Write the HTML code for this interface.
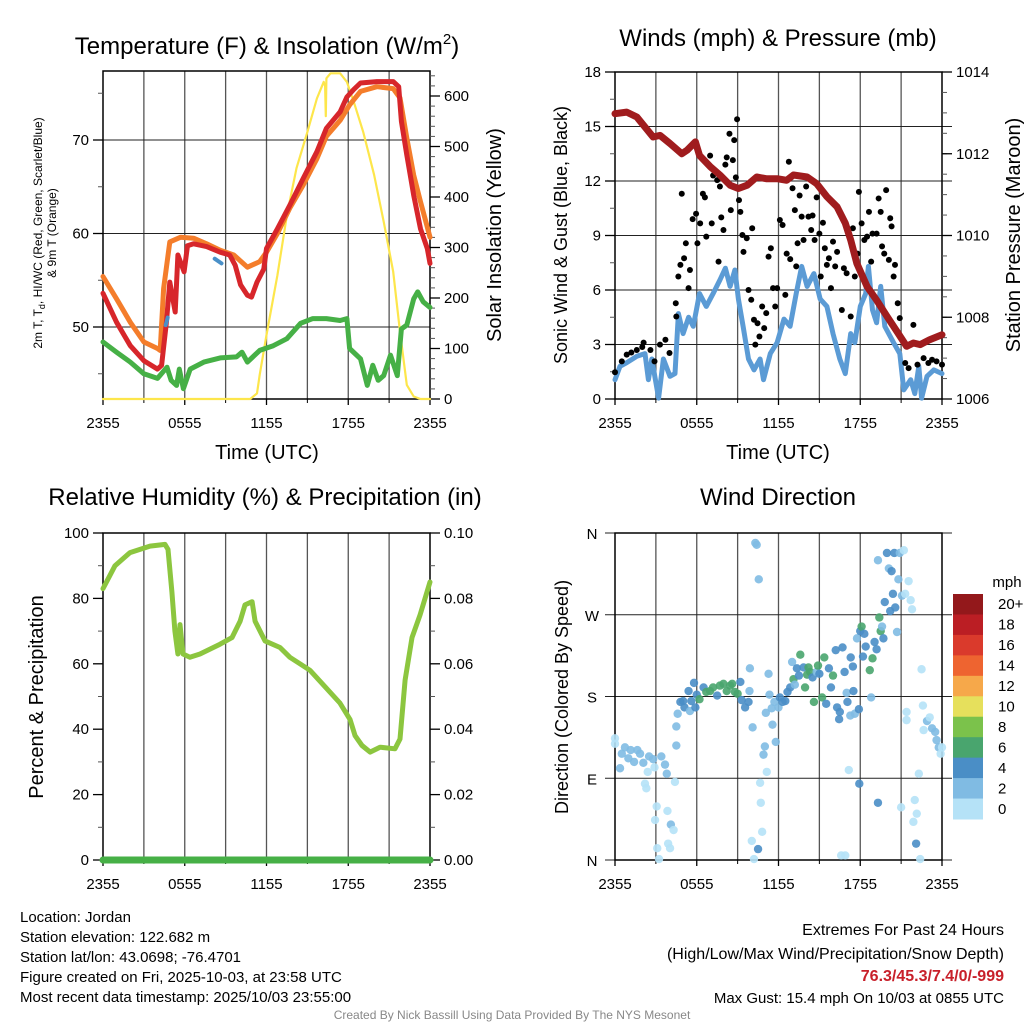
<!DOCTYPE html>
<html><head><meta charset="utf-8"><style>
body{margin:0;background:#fff;width:1024px;height:1024px;overflow:hidden;font-family:"Liberation Sans",sans-serif}
svg text{font-family:"Liberation Sans",sans-serif}
</style></head><body>
<svg id="s" width="1024" height="1024" viewBox="0 0 1024 1024" xmlns="http://www.w3.org/2000/svg"></svg>
<script>
// ---- Panel 1 data (hours since 2355 UTC) ----
const redH=[0,1,2,3,4,4.3,4.65,4.9,5.3,5.5,5.95,6.2,6.65,7.6,8.6,9.3,9.7,10.1,10.6,10.9,11.3,11.8,12,12.8,13.7,14.7,15.7,16.4,17.4,17.9,18.4,18.9,20.1,21.3,21.7,21.9,22.3,22.8,23.3,23.8,24];
const redV=[53.6,50.5,48,46.4,45.5,45.9,50.5,54.8,51.6,57.7,55.9,58.7,58.9,58.6,58,57.7,56.6,54.5,53.4,53.2,54.8,56.2,58.4,60.5,63,65.9,68.75,71.25,73,74.6,75.4,76.1,76.25,76.25,75.7,72,68.4,64.1,60.5,58.4,56.8];
const orgH=[0,1,2,3,4,4.2,4.45,4.9,5.7,6.65,7.6,8.6,9.6,10.6,11.5,12,12.8,13.7,14.7,15.7,16.4,17.4,18.1,18.9,20.1,21.3,21.8,22.3,22.8,23.3,24];
const orgV=[55.4,53,50.5,48.4,47.7,47.5,54.1,59.1,59.6,59.5,58.9,58.2,57.7,56.4,57,58,60,62.7,65.2,68,70.4,72.1,73.75,75.2,75.7,75.5,74.5,70.2,66.25,63.4,59.6];
const grnH=[0,1,2,3,4,4.4,4.7,5.0,5.4,5.6,5.9,6.4,7.4,8.6,9.8,10.2,10.6,11.5,12.5,13.5,14.5,15.4,16.4,17.4,17.9,18.1,18.9,19.4,19.8,20.2,20.6,21.1,21.6,21.9,22.3,22.8,23.1,23.5,24];
const grnV=[48.4,47.3,46.25,45,44.5,45.2,45.7,44.3,43.75,45.5,43.4,45.5,46.25,46.7,46.8,47.3,46.25,47.5,48,48.75,50.4,50.9,50.9,50.7,50.9,47.7,46.6,43.75,45.9,44.3,44.8,47,44.8,49.8,50.2,53,53.75,52.7,52.1];
const solH=[0,10.8,11.3,11.5,12,12.8,13.5,14.2,15,15.7,16.2,16.3,16.35,16.4,16.7,17.4,17.9,18.4,19.1,19.9,20.6,21.3,21.8,22.3,22.8,23.3,24];
const solV=[0,0,11,48,127,245,364,457,529,595,628,620,560,635,645,645,628,589,529,444,351,252,133,28,5,0,0];
const hiH=[4.6,4.75];
const hiV=[50.2,51];
const hi2H=[8.2,8.7];
const hi2V=[57.3,56.8];
// ---- Panel 2 data ----
const presH=[0,0.86,1.6,2.8,3.3,4.04,4.9,5.3,5.9,6.2,7,7.7,8.45,9.06,9.7,10.4,11.1,11.9,12.6,13.1,14.1,14.8,15.55,16.3,16.9,17.3,17.75,18.5,19.2,19.96,20.7,21.4,21.9,22.4,23.1,24];
const presV=[1012.98,1013.02,1012.9,1012.41,1012.45,1012.25,1012.0,1012.09,1012.29,1011.96,1011.68,1011.48,1011.23,1011.15,1011.23,1011.43,1011.39,1011.39,1011.35,1011.48,1011.43,1011.27,1010.95,1010.7,1010.3,1009.89,1009.32,1008.75,1008.42,1008.02,1007.65,1007.29,1007.37,1007.33,1007.45,1007.57];
const windH=[0,0.37,0.86,1.6,2.2,2.45,2.7,3.2,3.55,4.04,4.4,4.65,5.0,5.4,5.75,6.2,6.7,7.2,7.7,8.1,8.45,8.8,9.06,9.4,9.8,10.2,10.65,10.9,11.4,11.9,12.4,12.85,13.3,13.7,14.1,14.6,15.06,15.55,16.0,16.5,16.9,17.3,17.6,18.0,18.4,18.6,18.9,19.2,19.5,19.8,20.45,20.9,21.2,21.7,22.0,22.3,22.5,22.9,23.4,24];
const windV=[1.06,1.8,2.0,2.35,2.5,1.06,2.2,0.05,2.2,1.25,1.4,4.7,3.6,4.5,4.0,5.8,5.1,5.8,6.55,7.2,6.2,7.1,5.5,4.0,2.2,1.6,2.2,1.06,2.5,3.1,4.4,4.0,5.8,7.3,6.2,6.9,5.5,5.1,3.6,2.2,1.4,3.6,3.1,5.1,5.8,7.3,4.9,4.2,6.2,4.0,3.1,2.5,0.5,1.06,0.3,1.8,0.05,1.25,1.6,1.4];
const gustH=[0,0.5,0.86,1.2,1.6,2.0,2.1,2.6,2.9,3.3,3.7,4.0,4.46,4.5,4.65,4.8,4.9,5.07,5.2,5.4,5.5,5.7,5.95,6.05,6.25,6.45,6.6,6.7,6.98,7.1,7.2,7.5,7.6,7.7,7.8,7.96,8.1,8.2,8.4,8.5,8.65,8.75,8.87,8.96,9.1,9.2,9.35,9.43,9.67,9.8,10.0,10.07,10.2,10.3,10.46,10.6,10.8,10.95,11.1,11.27,11.44,11.6,11.76,11.9,12.1,12.3,12.5,12.6,12.76,12.86,13.03,13.2,13.3,13.4,13.55,13.7,13.84,14.03,14.2,14.4,14.5,14.65,14.8,15.0,15.1,15.26,15.4,15.55,15.7,15.85,16.0,16.16,16.3,16.65,16.8,17.0,17.3,17.46,17.6,17.8,17.9,18.1,18.3,18.5,18.64,18.8,18.9,19.2,19.35,19.5,19.6,19.76,19.9,20.1,20.2,20.3,20.45,20.55,20.75,20.9,21.3,21.55,21.9,22.2,22.65,23.0,23.27,23.6,24];
const gustV=[1.47,2.07,2.44,2.56,2.7,2.86,3.1,2.7,2.07,2.99,3.26,2.53,5.27,4.54,6.74,7.38,11.3,7.75,8.57,6.1,7.1,9.9,10.2,8.57,9.67,11.3,11.1,8.94,13.4,9.67,12.3,12.05,7.56,11.7,10.0,9.3,12.9,13.3,14.6,10.4,13.15,14.25,12.2,15.4,10.95,10.3,9.03,8.1,8.85,6.0,5.46,9.4,4.36,2.99,4.17,3.44,5.09,3.9,4.73,7.84,8.3,6.1,5.09,6.1,9.85,9.58,5.73,8.0,13.06,7.7,11.6,10.4,7.3,8.57,11.2,10.04,8.75,11.7,10.04,9.3,10.1,8.75,11.1,9.1,6.74,9.7,8.3,7.38,7.75,6.1,8.66,7.3,8.1,4.9,7.2,6.92,4.54,9.4,6.74,8.0,11.4,9.67,8.75,8.94,10.3,7.56,9.1,9.1,11.04,10.3,8.4,8.0,11.5,7.66,9.95,9.5,6.74,7.38,5.27,4.45,1.98,1.7,4.08,1.89,2.25,1.98,2.16,2.07,1.89];
// ---- Panel 3 data ----
const rhH=[0,0.88,1.98,3.45,4.55,4.77,5.06,5.28,5.5,5.65,5.87,6.38,7.12,8.59,9.47,10.06,10.42,10.94,11.16,11.89,12.99,13.72,14.46,15.19,16.29,17.39,18.13,18.5,19.01,19.6,20.33,21.43,21.8,22.17,22.68,23.27,24];
const rhV=[83,90,94,96,96.5,95,82,70,63,72,63,62,63,66,68,73,78,79,73,67,65,62,60,58,53,48,43,38,35,33,34.5,34,37,55,68,75,85];
const pcpH=[0,24];
const pcpV=[0,0];
// ---- Panel 4 data: hour, direction (deg), speed (mph) ----
const dirH=[0,0,0.37,0.5,0.73,0.98,1.15,1.4,1.64,1.84,2.08,2.4,2.2,2.3,2.5,2.8,2.9,3.06,2.94,3.1,3.23,3.4,3.67,3.8,3.85,4.1,4.3,3.9,4.04,4.4,4.5,4.5,4.6,4.8,5.0,5.1,5.4,5.5,5.6,5.8,5.9,6.0,6.2,6.5,6.7,6.98,7.2,7.5,7.7,7.96,8.2,8.45,8.6,8.8,9.0,9.2,9.3,9.55,9.8,9.9,9.87,10.1,10.04,10.2,10.3,10.4,10.55,10.5,10.65,10.7,10.8,10.9,11.0,11.14,11.07,11.27,11.34,11.5,11.56,11.7,11.8,12.0,12.1,12.3,12.5,12.66,12.86,13.0,13.1,13.2,13.35,13.5,13.6,13.84,13.95,14.1,14.2,14.33,14.5,14.6,14.8,14.9,15.0,15.2,15.36,15.5,15.7,15.85,16.0,16.2,16.3,16.45,16.5,16.7,16.85,17.0,17.06,17.16,17.27,17.3,17.46,17.5,17.6,17.76,17.9,17.93,18.0,18.1,18.2,18.3,18.4,18.7,18.8,18.9,19.05,19.2,19.3,19.3,19.4,19.5,19.6,19.7,19.8,19.96,20.1,20.2,20.3,20.4,20.57,20.5,20.7,20.8,20.9,21.0,21.06,21.2,21.3,21.4,21.4,21.55,21.7,21.8,21.9,22.0,22.1,22.15,22.3,22.4,22.5,22.6,22.65,22.9,23.1,23.27,23.5,23.6,23.76,23.9,24.0,16.6,16.9];
const dirV=[134,128,101,117,124,112,121,108,121,117,107,97,84,79,114,111,102,59,44,13,1,114,105,95,54,39,33,18,13,86,126,147,161,174,175,168,186,164,175,195,168,182,177,190,185,186,190,181,192,194,186,192,194,185,183,196,176,168,174,211,186,146,21,1,349,347,309,12,85,63,31,116,125,97,162,205,182,167,149,174,130,168,179,174,175,185,190,218,199,193,211,203,226,212,190,204,212,207,201,174,207,214,205,179,223,172,211,190,203,231,168,155,163,234,207,184,174,99,159,223,213,186,161,244,166,84,252,257,224,249,235,209,179,222,240,232,63,330,267,252,257,244,284,338,321,274,318,293,278,338,251,309,338,58,291,341,293,163,154,307,286,276,42,66,18,51,95,1,210,170,143,153,157,145,141,132,124,117,124,5,5];
const dirS=[1,1,3,3,3,3,3,3,3,3,3,1,1,1,3,3,1,1,1,1,1,3,3,3,1,3,1,1,1,1,3,3,3,5,5,5,5,3,5,5,5,5,7,5,7,7,7,5,7,7,7,7,7,7,7,5,5,5,5,3,3,3,1,1,3,3,3,5,1,1,1,3,3,1,3,3,3,3,3,3,3,3,5,5,5,5,5,3,7,3,5,5,7,5,7,7,7,7,5,7,3,7,5,7,7,5,5,5,7,5,5,5,5,5,5,3,5,1,3,5,5,5,3,3,5,5,5,7,5,5,5,7,3,7,5,5,5,3,7,7,3,5,5,5,3,5,5,5,5,5,3,3,3,1,3,1,1,1,1,1,1,1,1,1,5,1,1,1,1,1,1,3,1,3,3,3,3,1,1,1,1];
const cbLabels=["20+","18","16","14","12","10","8","6","4","2","0"];
const cbColors=["#93181b","#bb1e24","#da3a2c","#ee6430","#f6a84a","#e6e05c","#7bc24b","#49a56e","#4a8ec6","#80bbe3","#b5e2f7"];
const xTickLabels=["2355","0555","1155","1755","2355"];

const NS="http://www.w3.org/2000/svg";
const svg=document.getElementById('s');
function mk(tag,attrs,name,parent){
  const e=document.createElementNS(NS,tag);
  for(const k in attrs)e.setAttribute(k,attrs[k]);
  
  
  (parent||svg).appendChild(e);return e;
}
function txt(x,y,s,size,anchor,name,extra){
  const t=mk('text',Object.assign({x:x,y:y,'font-size':size,'text-anchor':anchor||'middle',fill:'#000'},extra||{}),name);
  t.textContent=s;return t;
}
function lin(d0,d1,r0,r1){return v=>r0+(v-d0)*(r1-r0)/(d1-d0);}

function panel(P,o){
  const g=mk('g',{},o.name);
  const X=lin(0,24,P.x0,P.x1);
  // vertical grid
  for(let h=3;h<24;h+=3){mk('line',{x1:X(h),x2:X(h),y1:P.y0,y2:P.y1,stroke:'#555','stroke-width':1.3},'vertical-gridline',g);}
  // horizontal grid
  if(o.hgrid)o.hgrid.forEach(v=>{const y=o.YL(v);mk('line',{x1:P.x0-(o.extL||0),x2:P.x1+(o.extR||0),y1:y,y2:y,stroke:'#222','stroke-width':1.1},'horizontal-gridline',g);});
  // frame
  mk('rect',{x:P.x0,y:P.y0,width:P.x1-P.x0,height:P.y1-P.y0,fill:'none',stroke:'#000','stroke-width':1.5},'plot-frame',g);
  // x ticks
  for(let i=0;i<5;i++){const x=X(i*6);mk('line',{x1:x,x2:x,y1:P.y1,y2:P.y1+6,stroke:'#000','stroke-width':1.3},'x-tick',g);
    txt(x,P.y1+29,xTickLabels[i],15,'middle','x-tick-label');}
  for(let h=3;h<24;h+=6){mk('line',{x1:X(h),x2:X(h),y1:P.y1,y2:P.y1+4,stroke:'#000'},'x-minor-tick',g);}
  return {g,X};
}
function yTicks(P,Y,vals,labels,side,minor,name,len){
  const x=side==='L'?P.x0:P.x1, d=side==='L'?-1:1;
  minor.forEach(v=>mk('line',{x1:x,x2:x+d*5,y1:Y(v),y2:Y(v),stroke:'#555'},name+'-minor-tick'));
  vals.forEach((v,i)=>{mk('line',{x1:x,x2:x+d*(len||10),y1:Y(v),y2:Y(v),stroke:'#000','stroke-width':1.3},name+'-tick');
    if(labels[i]!=='')txt(x+d*((len||10)+4),Y(v)+5,labels[i],15,side==='L'?'end':'start',name+'-label');});
}
function path(H,V,X,Y,color,w,name,parent){
  let d='';H.forEach((h,i)=>{d+=(i?'L':'M')+X(h).toFixed(1)+' '+Y(V[i]).toFixed(1);});
  return mk('path',{d:d,fill:'none',stroke:color,'stroke-width':w,'stroke-linejoin':'round','stroke-linecap':'round'},name,parent);
}
function range(a,b,s){const r=[];for(let v=a;v<=b+1e-9;v+=s)r.push(+v.toFixed(4));return r;}

// ===== Panel 1 =====
const P1={x0:103,x1:430,y0:71,y1:399};
const T1=lin(50,70,327,140), S1=lin(0,600,399,96);
const p1=panel(P1,{name:'temperature-panel',hgrid:[50,60,70],YL:T1,extL:10});
yTicks(P1,T1,[50,60,70],['50','60','70'],'L',[45,55,65,75],'temp-axis',10);
yTicks(P1,S1,range(0,600,100),['0','100','200','300','400','500','600'],'R',range(20,640,20),'insolation-axis',10);
path(solH,solV,p1.X,S1,'#fde64b',2.2,'insolation-line');
path(grnH,grnV,p1.X,T1,'#46b046',5,'dewpoint-line');
path(orgH,orgV,p1.X,T1,'#f47d2b',5,'temp-9m-line');
path(redH,redV,p1.X,T1,'#d7262b',5,'temp-2m-line');
path(hiH,hiV,p1.X,T1,'#4a90c8',4,'heat-index-line');
path(hi2H,hi2V,p1.X,T1,'#4a90c8',4,'heat-index-line-2');
txt(267,54,'',24,'middle','p1-title-placeholder');
(function(){const t=txt(267,54,'',24,'middle','temperature-title');t.innerHTML='Temperature (F) &amp; Insolation (W/m<tspan font-size="15" dy="-10">2</tspan><tspan dy="10">)</tspan>';})();
txt(267,459,'Time (UTC)',20,'middle','x-axis-title');
(function(){const t=mk('text',{transform:'translate(42,233) rotate(-90)','font-size':12,'text-anchor':'middle'},'temp-axis-title');t.innerHTML='2m T, T<tspan font-size="9" dy="3">d</tspan><tspan dy="-3">, HI/WC (Red, Green, Scarlet/Blue)</tspan>';
const t2=mk('text',{transform:'translate(56,233) rotate(-90)','font-size':12,'text-anchor':'middle'},'temp-axis-title-2');t2.textContent='& 9m T (Orange)';})();
mk('text',{transform:'translate(501,235) rotate(-90)','font-size':20,'text-anchor':'middle'},'insolation-axis-title').textContent='Solar Insolation (Yellow)';

// ===== Panel 2 =====
const P2={x0:615,x1:942,y0:72,y1:399};
const W2=lin(0,18,399,72), Pr2=lin(1006,1014,399,72);
const p2=panel(P2,{name:'winds-panel',hgrid:range(3,15,3),YL:W2,extL:10,extR:10});
yTicks(P2,W2,range(0,18,3),['0','3','6','9','12','15','18'],'L',range(1.5,16.5,3),'wind-axis',10);
yTicks(P2,Pr2,range(1006,1014,2),['1006','1008','1010','1012','1014'],'R',range(1006.5,1013.5,0.5),'pressure-axis',10);
path(windH,windV,p2.X,W2,'#5b9bd5',5,'sonic-wind-line');
gustH.forEach((h,i)=>{mk('circle',{cx:p2.X(h),cy:W2(gustV[i]),r:3,fill:'#000'},'gust-point');});
path(presH,presV,p2.X,Pr2,'#a01c1e',7,'pressure-line');
txt(778,46,'Winds (mph) & Pressure (mb)',24,'middle','winds-title');
txt(778,459,'Time (UTC)',20,'middle','x-axis-title');
mk('text',{transform:'translate(567,235) rotate(-90)','font-size':18,'text-anchor':'middle'},'wind-axis-title').textContent='Sonic Wind & Gust (Blue, Black)';
mk('text',{transform:'translate(1020,235) rotate(-90)','font-size':20,'text-anchor':'middle'},'pressure-axis-title').textContent='Station Pressure (Maroon)';

// ===== Panel 3 =====
const P3={x0:103,x1:430,y0:533,y1:860};
const R3=lin(0,100,860,533), Pc3=lin(0,0.1,860,533);
const p3=panel(P3,{name:'humidity-panel'});
yTicks(P3,R3,range(0,100,20),['0','20','40','60','80','100'],'L',range(10,90,20),'rh-axis',10);
yTicks(P3,Pc3,range(0,0.1,0.02),['0.00','0.02','0.04','0.06','0.08','0.10'],'R',range(0.01,0.09,0.02),'precip-axis',10);
path(rhH,rhV,p3.X,R3,'#8cc63f',5,'rh-line');
path(pcpH,pcpV,p3.X,Pc3,'#46b046',7,'precip-line');
txt(265,505,'Relative Humidity (%) & Precipitation (in)',24,'middle','humidity-title');
mk('text',{transform:'translate(43,697) rotate(-90)','font-size':20,'text-anchor':'middle'},'rh-axis-title').textContent='Percent & Precipitation';

// ===== Panel 4 =====
const P4={x0:615,x1:942,y0:533,y1:860};
const D4=lin(0,360,860,533);
const p4=panel(P4,{name:'wind-direction-panel',hgrid:[0,90,180,270,360],YL:D4,extL:10,extR:10});
['N','E','S','W','N'].forEach((s,i)=>txt(592,D4(i*90)+6,s,15,'middle','direction-label'));
function spdColor(s){const b=Math.min(10,Math.floor(s/2));return cbColors[10-b];}
dirH.forEach((h,i)=>{mk('circle',{cx:p4.X(h),cy:D4(dirV[i]),r:4.2,fill:spdColor(dirS[i]),'fill-opacity':0.9},'direction-point');});
txt(778,505,'Wind Direction',24,'middle','direction-title');
mk('text',{transform:'translate(568,697) rotate(-90)','font-size':18,'text-anchor':'middle'},'direction-axis-title').textContent='Direction (Colored By Speed)';
// colorbar
const cb=mk('g',{},'speed-colorbar');
const cbY0=594, cbH=225/11;
cbColors.forEach((c,i)=>{mk('rect',{x:953,y:cbY0+i*cbH,width:30,height:cbH+0.5,fill:c},'colorbar-bin',cb);
  txt(998,cbY0+i*cbH+cbH/2+5,cbLabels[i],15,'start','colorbar-label');});
txt(1007,587,'mph',15,'middle','colorbar-title');

// ===== Footer =====
['Location: Jordan','Station elevation: 122.682 m','Station lat/lon: 43.0698; -76.4701','Figure created on Fri, 2025-10-03, at 23:58 UTC','Most recent data timestamp: 2025/10/03 23:55:00'].forEach((s,i)=>txt(20,922+i*20,s,15,'start','station-info-line'));
txt(1004,935,'Extremes For Past 24 Hours',16,'end','extremes-title');
txt(1004,959,'(High/Low/Max Wind/Precipitation/Snow Depth)',16,'end','extremes-subtitle');
txt(1004,981,'76.3/45.3/7.4/0/-999',16,'end','extremes-values',{fill:'#c8202a','font-weight':'bold'});
txt(1004,1003,'Max Gust: 15.4 mph On 10/03 at 0855 UTC',15,'end','max-gust-text');
txt(512,1019,'Created By Nick Bassill Using Data Provided By The NYS Mesonet',12,'middle','credit-text',{fill:'#888'});
</script>
</body></html>
